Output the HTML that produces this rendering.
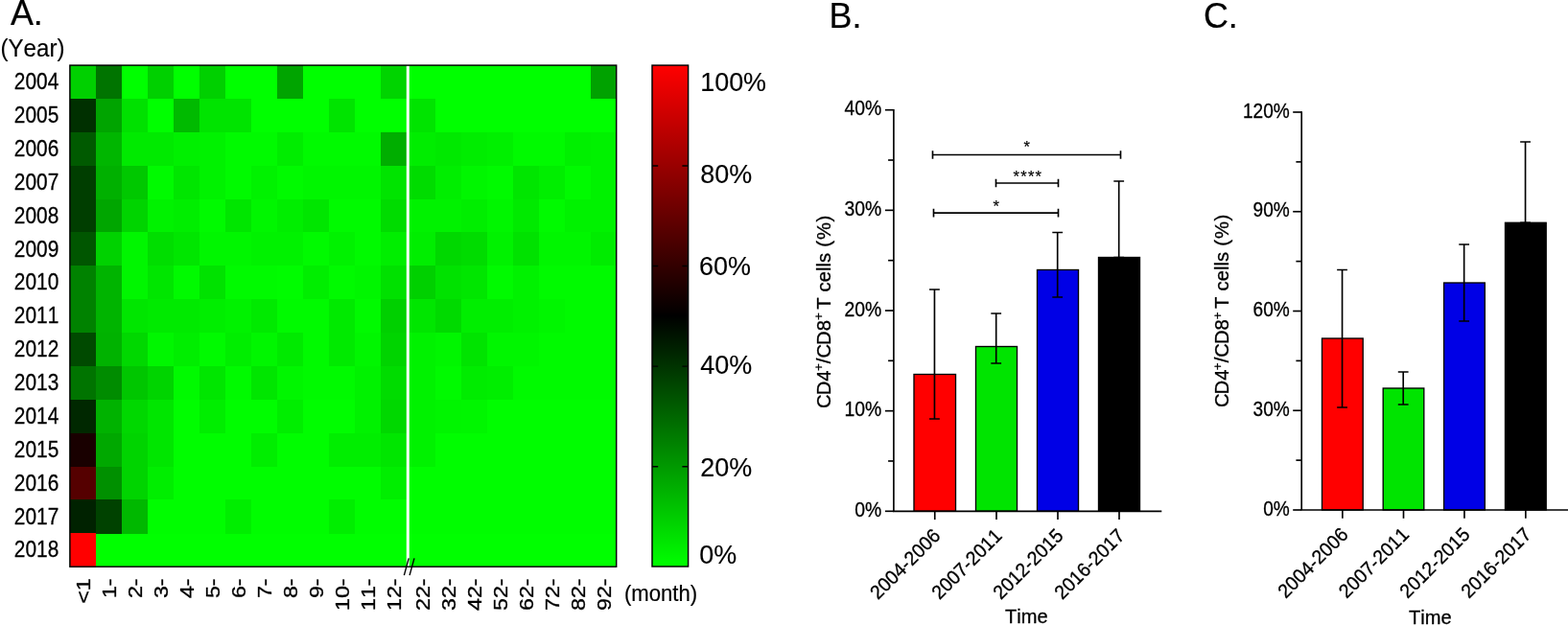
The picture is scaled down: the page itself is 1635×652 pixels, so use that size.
<!DOCTYPE html>
<html lang="en"><head><meta charset="utf-8"><title>Figure</title>
<style>
html,body{margin:0;padding:0;background:#fff;}
body{width:1635px;height:652px;overflow:hidden;font-family:"Liberation Sans", Arial, sans-serif;}
svg{display:block;}
</style></head><body>
<svg width="1635" height="652" viewBox="0 0 1635 652" font-family='"Liberation Sans", Arial, sans-serif' fill="#000" style="font-kerning:none">
<rect width="1635" height="652" fill="#fff"/>
<g id="panelA">
<text transform="translate(10.90,25.80) scale(0.965,1)" font-size="37.2" stroke="#000" stroke-width="0.2">A.</text>
<text transform="translate(34.00,58.80) scale(0.95,1)" font-size="25.4" text-anchor="middle" stroke="#000" stroke-width="0.15">(Year)</text>
<rect x="72.9" y="68.1" width="569.80" height="523.10" fill="#00ff00"/>
<g shape-rendering="crispEdges">
<rect x="72.90" y="68.10" width="27.39" height="35.27" fill="#00d000"/>
<rect x="99.89" y="68.10" width="27.39" height="35.27" fill="#007400"/>
<rect x="126.88" y="68.10" width="27.39" height="35.27" fill="#00ff00"/>
<rect x="153.87" y="68.10" width="27.39" height="35.27" fill="#00d000"/>
<rect x="180.86" y="68.10" width="27.39" height="35.27" fill="#00ff00"/>
<rect x="207.85" y="68.10" width="27.39" height="35.27" fill="#00d000"/>
<rect x="234.84" y="68.10" width="27.39" height="35.27" fill="#00ff00"/>
<rect x="261.83" y="68.10" width="27.39" height="35.27" fill="#00ff00"/>
<rect x="288.82" y="68.10" width="27.39" height="35.27" fill="#00a400"/>
<rect x="315.81" y="68.10" width="27.39" height="35.27" fill="#00ff00"/>
<rect x="342.80" y="68.10" width="27.39" height="35.27" fill="#00ff00"/>
<rect x="369.80" y="68.10" width="27.39" height="35.27" fill="#00ff00"/>
<rect x="396.79" y="68.10" width="27.39" height="35.27" fill="#00d400"/>
<rect x="426.78" y="68.10" width="27.39" height="35.27" fill="#00ff00"/>
<rect x="453.77" y="68.10" width="27.39" height="35.27" fill="#00ff00"/>
<rect x="480.76" y="68.10" width="27.39" height="35.27" fill="#00ff00"/>
<rect x="507.75" y="68.10" width="27.39" height="35.27" fill="#00ff00"/>
<rect x="534.74" y="68.10" width="27.39" height="35.27" fill="#00ff00"/>
<rect x="561.73" y="68.10" width="27.39" height="35.27" fill="#00ff00"/>
<rect x="588.72" y="68.10" width="27.39" height="35.27" fill="#00ff00"/>
<rect x="615.71" y="68.10" width="27.39" height="35.27" fill="#00a200"/>
<rect x="72.90" y="102.97" width="27.39" height="35.27" fill="#003000"/>
<rect x="99.89" y="102.97" width="27.39" height="35.27" fill="#00a400"/>
<rect x="126.88" y="102.97" width="27.39" height="35.27" fill="#00e100"/>
<rect x="153.87" y="102.97" width="27.39" height="35.27" fill="#00ff00"/>
<rect x="180.86" y="102.97" width="27.39" height="35.27" fill="#00ba00"/>
<rect x="207.85" y="102.97" width="27.39" height="35.27" fill="#00e400"/>
<rect x="234.84" y="102.97" width="27.39" height="35.27" fill="#00e400"/>
<rect x="261.83" y="102.97" width="27.39" height="35.27" fill="#00ff00"/>
<rect x="288.82" y="102.97" width="27.39" height="35.27" fill="#00ff00"/>
<rect x="315.81" y="102.97" width="27.39" height="35.27" fill="#00ff00"/>
<rect x="342.80" y="102.97" width="27.39" height="35.27" fill="#00e400"/>
<rect x="369.80" y="102.97" width="27.39" height="35.27" fill="#00ff00"/>
<rect x="396.79" y="102.97" width="27.39" height="35.27" fill="#00ff00"/>
<rect x="426.78" y="102.97" width="27.39" height="35.27" fill="#00e400"/>
<rect x="453.77" y="102.97" width="27.39" height="35.27" fill="#00ff00"/>
<rect x="480.76" y="102.97" width="27.39" height="35.27" fill="#00ff00"/>
<rect x="507.75" y="102.97" width="27.39" height="35.27" fill="#00ff00"/>
<rect x="534.74" y="102.97" width="27.39" height="35.27" fill="#00ff00"/>
<rect x="561.73" y="102.97" width="27.39" height="35.27" fill="#00ff00"/>
<rect x="588.72" y="102.97" width="27.39" height="35.27" fill="#00ff00"/>
<rect x="615.71" y="102.97" width="27.39" height="35.27" fill="#00ff00"/>
<rect x="72.90" y="137.85" width="27.39" height="35.27" fill="#005a00"/>
<rect x="99.89" y="137.85" width="27.39" height="35.27" fill="#00b600"/>
<rect x="126.88" y="137.85" width="27.39" height="35.27" fill="#00ea00"/>
<rect x="153.87" y="137.85" width="27.39" height="35.27" fill="#00ea00"/>
<rect x="180.86" y="137.85" width="27.39" height="35.27" fill="#00f000"/>
<rect x="207.85" y="137.85" width="27.39" height="35.27" fill="#00f200"/>
<rect x="234.84" y="137.85" width="27.39" height="35.27" fill="#00fa00"/>
<rect x="261.83" y="137.85" width="27.39" height="35.27" fill="#00fa00"/>
<rect x="288.82" y="137.85" width="27.39" height="35.27" fill="#00ed00"/>
<rect x="315.81" y="137.85" width="27.39" height="35.27" fill="#00fa00"/>
<rect x="342.80" y="137.85" width="27.39" height="35.27" fill="#00fa00"/>
<rect x="369.80" y="137.85" width="27.39" height="35.27" fill="#00fa00"/>
<rect x="396.79" y="137.85" width="27.39" height="35.27" fill="#00ae00"/>
<rect x="426.78" y="137.85" width="27.39" height="35.27" fill="#00ed00"/>
<rect x="453.77" y="137.85" width="27.39" height="35.27" fill="#00e900"/>
<rect x="480.76" y="137.85" width="27.39" height="35.27" fill="#00ed00"/>
<rect x="507.75" y="137.85" width="27.39" height="35.27" fill="#00f000"/>
<rect x="534.74" y="137.85" width="27.39" height="35.27" fill="#00fa00"/>
<rect x="561.73" y="137.85" width="27.39" height="35.27" fill="#00fa00"/>
<rect x="588.72" y="137.85" width="27.39" height="35.27" fill="#00f000"/>
<rect x="615.71" y="137.85" width="27.39" height="35.27" fill="#00f200"/>
<rect x="72.90" y="172.72" width="27.39" height="35.27" fill="#003e00"/>
<rect x="99.89" y="172.72" width="27.39" height="35.27" fill="#00b000"/>
<rect x="126.88" y="172.72" width="27.39" height="35.27" fill="#00c800"/>
<rect x="153.87" y="172.72" width="27.39" height="35.27" fill="#00fa00"/>
<rect x="180.86" y="172.72" width="27.39" height="35.27" fill="#00e600"/>
<rect x="207.85" y="172.72" width="27.39" height="35.27" fill="#00f200"/>
<rect x="234.84" y="172.72" width="27.39" height="35.27" fill="#00fa00"/>
<rect x="261.83" y="172.72" width="27.39" height="35.27" fill="#00f200"/>
<rect x="288.82" y="172.72" width="27.39" height="35.27" fill="#00fa00"/>
<rect x="315.81" y="172.72" width="27.39" height="35.27" fill="#00f600"/>
<rect x="342.80" y="172.72" width="27.39" height="35.27" fill="#00f600"/>
<rect x="369.80" y="172.72" width="27.39" height="35.27" fill="#00f600"/>
<rect x="396.79" y="172.72" width="27.39" height="35.27" fill="#00e400"/>
<rect x="426.78" y="172.72" width="27.39" height="35.27" fill="#00dc00"/>
<rect x="453.77" y="172.72" width="27.39" height="35.27" fill="#00ee00"/>
<rect x="480.76" y="172.72" width="27.39" height="35.27" fill="#00f600"/>
<rect x="507.75" y="172.72" width="27.39" height="35.27" fill="#00fa00"/>
<rect x="534.74" y="172.72" width="27.39" height="35.27" fill="#00e600"/>
<rect x="561.73" y="172.72" width="27.39" height="35.27" fill="#00ee00"/>
<rect x="588.72" y="172.72" width="27.39" height="35.27" fill="#00fa00"/>
<rect x="615.71" y="172.72" width="27.39" height="35.27" fill="#00f200"/>
<rect x="72.90" y="207.59" width="27.39" height="35.27" fill="#003e00"/>
<rect x="99.89" y="207.59" width="27.39" height="35.27" fill="#00a600"/>
<rect x="126.88" y="207.59" width="27.39" height="35.27" fill="#00d400"/>
<rect x="153.87" y="207.59" width="27.39" height="35.27" fill="#00f200"/>
<rect x="180.86" y="207.59" width="27.39" height="35.27" fill="#00ee00"/>
<rect x="207.85" y="207.59" width="27.39" height="35.27" fill="#00fa00"/>
<rect x="234.84" y="207.59" width="27.39" height="35.27" fill="#00e600"/>
<rect x="261.83" y="207.59" width="27.39" height="35.27" fill="#00f600"/>
<rect x="288.82" y="207.59" width="27.39" height="35.27" fill="#00ee00"/>
<rect x="315.81" y="207.59" width="27.39" height="35.27" fill="#00e600"/>
<rect x="342.80" y="207.59" width="27.39" height="35.27" fill="#00fa00"/>
<rect x="369.80" y="207.59" width="27.39" height="35.27" fill="#00fa00"/>
<rect x="396.79" y="207.59" width="27.39" height="35.27" fill="#00dc00"/>
<rect x="426.78" y="207.59" width="27.39" height="35.27" fill="#00f200"/>
<rect x="453.77" y="207.59" width="27.39" height="35.27" fill="#00f200"/>
<rect x="480.76" y="207.59" width="27.39" height="35.27" fill="#00ee00"/>
<rect x="507.75" y="207.59" width="27.39" height="35.27" fill="#00f600"/>
<rect x="534.74" y="207.59" width="27.39" height="35.27" fill="#00ea00"/>
<rect x="561.73" y="207.59" width="27.39" height="35.27" fill="#00fa00"/>
<rect x="588.72" y="207.59" width="27.39" height="35.27" fill="#00f200"/>
<rect x="615.71" y="207.59" width="27.39" height="35.27" fill="#00f200"/>
<rect x="72.90" y="242.47" width="27.39" height="35.27" fill="#005600"/>
<rect x="99.89" y="242.47" width="27.39" height="35.27" fill="#00d200"/>
<rect x="126.88" y="242.47" width="27.39" height="35.27" fill="#00f600"/>
<rect x="153.87" y="242.47" width="27.39" height="35.27" fill="#00de00"/>
<rect x="180.86" y="242.47" width="27.39" height="35.27" fill="#00e600"/>
<rect x="207.85" y="242.47" width="27.39" height="35.27" fill="#00f600"/>
<rect x="234.84" y="242.47" width="27.39" height="35.27" fill="#00f600"/>
<rect x="261.83" y="242.47" width="27.39" height="35.27" fill="#00f200"/>
<rect x="288.82" y="242.47" width="27.39" height="35.27" fill="#00f200"/>
<rect x="315.81" y="242.47" width="27.39" height="35.27" fill="#00fa00"/>
<rect x="342.80" y="242.47" width="27.39" height="35.27" fill="#00f200"/>
<rect x="369.80" y="242.47" width="27.39" height="35.27" fill="#00fa00"/>
<rect x="396.79" y="242.47" width="27.39" height="35.27" fill="#00ee00"/>
<rect x="426.78" y="242.47" width="27.39" height="35.27" fill="#00ee00"/>
<rect x="453.77" y="242.47" width="27.39" height="35.27" fill="#00d800"/>
<rect x="480.76" y="242.47" width="27.39" height="35.27" fill="#00dc00"/>
<rect x="507.75" y="242.47" width="27.39" height="35.27" fill="#00f200"/>
<rect x="534.74" y="242.47" width="27.39" height="35.27" fill="#00e200"/>
<rect x="561.73" y="242.47" width="27.39" height="35.27" fill="#00f600"/>
<rect x="588.72" y="242.47" width="27.39" height="35.27" fill="#00f600"/>
<rect x="615.71" y="242.47" width="27.39" height="35.27" fill="#00ec00"/>
<rect x="72.90" y="277.34" width="27.39" height="35.27" fill="#008200"/>
<rect x="99.89" y="277.34" width="27.39" height="35.27" fill="#00b400"/>
<rect x="126.88" y="277.34" width="27.39" height="35.27" fill="#00f600"/>
<rect x="153.87" y="277.34" width="27.39" height="35.27" fill="#00e600"/>
<rect x="180.86" y="277.34" width="27.39" height="35.27" fill="#00fa00"/>
<rect x="207.85" y="277.34" width="27.39" height="35.27" fill="#00e200"/>
<rect x="234.84" y="277.34" width="27.39" height="35.27" fill="#00fa00"/>
<rect x="261.83" y="277.34" width="27.39" height="35.27" fill="#00fa00"/>
<rect x="288.82" y="277.34" width="27.39" height="35.27" fill="#00fc00"/>
<rect x="315.81" y="277.34" width="27.39" height="35.27" fill="#00ee00"/>
<rect x="342.80" y="277.34" width="27.39" height="35.27" fill="#00fa00"/>
<rect x="369.80" y="277.34" width="27.39" height="35.27" fill="#00f600"/>
<rect x="396.79" y="277.34" width="27.39" height="35.27" fill="#00e100"/>
<rect x="426.78" y="277.34" width="27.39" height="35.27" fill="#00d000"/>
<rect x="453.77" y="277.34" width="27.39" height="35.27" fill="#00e200"/>
<rect x="480.76" y="277.34" width="27.39" height="35.27" fill="#00e600"/>
<rect x="507.75" y="277.34" width="27.39" height="35.27" fill="#00fa00"/>
<rect x="534.74" y="277.34" width="27.39" height="35.27" fill="#00f200"/>
<rect x="561.73" y="277.34" width="27.39" height="35.27" fill="#00fa00"/>
<rect x="588.72" y="277.34" width="27.39" height="35.27" fill="#00fa00"/>
<rect x="615.71" y="277.34" width="27.39" height="35.27" fill="#00fa00"/>
<rect x="72.90" y="312.21" width="27.39" height="35.27" fill="#008200"/>
<rect x="99.89" y="312.21" width="27.39" height="35.27" fill="#00b400"/>
<rect x="126.88" y="312.21" width="27.39" height="35.27" fill="#00e600"/>
<rect x="153.87" y="312.21" width="27.39" height="35.27" fill="#00ea00"/>
<rect x="180.86" y="312.21" width="27.39" height="35.27" fill="#00ea00"/>
<rect x="207.85" y="312.21" width="27.39" height="35.27" fill="#00ee00"/>
<rect x="234.84" y="312.21" width="27.39" height="35.27" fill="#00f200"/>
<rect x="261.83" y="312.21" width="27.39" height="35.27" fill="#00ea00"/>
<rect x="288.82" y="312.21" width="27.39" height="35.27" fill="#00fa00"/>
<rect x="315.81" y="312.21" width="27.39" height="35.27" fill="#00fa00"/>
<rect x="342.80" y="312.21" width="27.39" height="35.27" fill="#00ea00"/>
<rect x="369.80" y="312.21" width="27.39" height="35.27" fill="#00fa00"/>
<rect x="396.79" y="312.21" width="27.39" height="35.27" fill="#00d000"/>
<rect x="426.78" y="312.21" width="27.39" height="35.27" fill="#00e600"/>
<rect x="453.77" y="312.21" width="27.39" height="35.27" fill="#00da00"/>
<rect x="480.76" y="312.21" width="27.39" height="35.27" fill="#00ee00"/>
<rect x="507.75" y="312.21" width="27.39" height="35.27" fill="#00ee00"/>
<rect x="534.74" y="312.21" width="27.39" height="35.27" fill="#00f200"/>
<rect x="561.73" y="312.21" width="27.39" height="35.27" fill="#00f600"/>
<rect x="588.72" y="312.21" width="27.39" height="35.27" fill="#00fa00"/>
<rect x="615.71" y="312.21" width="27.39" height="35.27" fill="#00fa00"/>
<rect x="72.90" y="347.09" width="27.39" height="35.27" fill="#004a00"/>
<rect x="99.89" y="347.09" width="27.39" height="35.27" fill="#00b200"/>
<rect x="126.88" y="347.09" width="27.39" height="35.27" fill="#00d800"/>
<rect x="153.87" y="347.09" width="27.39" height="35.27" fill="#00f600"/>
<rect x="180.86" y="347.09" width="27.39" height="35.27" fill="#00ee00"/>
<rect x="207.85" y="347.09" width="27.39" height="35.27" fill="#00fa00"/>
<rect x="234.84" y="347.09" width="27.39" height="35.27" fill="#00ee00"/>
<rect x="261.83" y="347.09" width="27.39" height="35.27" fill="#00f600"/>
<rect x="288.82" y="347.09" width="27.39" height="35.27" fill="#00ea00"/>
<rect x="315.81" y="347.09" width="27.39" height="35.27" fill="#00fa00"/>
<rect x="342.80" y="347.09" width="27.39" height="35.27" fill="#00ea00"/>
<rect x="369.80" y="347.09" width="27.39" height="35.27" fill="#00f600"/>
<rect x="396.79" y="347.09" width="27.39" height="35.27" fill="#00d400"/>
<rect x="426.78" y="347.09" width="27.39" height="35.27" fill="#00f200"/>
<rect x="453.77" y="347.09" width="27.39" height="35.27" fill="#00f600"/>
<rect x="480.76" y="347.09" width="27.39" height="35.27" fill="#00e400"/>
<rect x="507.75" y="347.09" width="27.39" height="35.27" fill="#00f600"/>
<rect x="534.74" y="347.09" width="27.39" height="35.27" fill="#00f600"/>
<rect x="561.73" y="347.09" width="27.39" height="35.27" fill="#00fa00"/>
<rect x="588.72" y="347.09" width="27.39" height="35.27" fill="#00fa00"/>
<rect x="615.71" y="347.09" width="27.39" height="35.27" fill="#00fa00"/>
<rect x="72.90" y="381.96" width="27.39" height="35.27" fill="#007400"/>
<rect x="99.89" y="381.96" width="27.39" height="35.27" fill="#008c00"/>
<rect x="126.88" y="381.96" width="27.39" height="35.27" fill="#00c600"/>
<rect x="153.87" y="381.96" width="27.39" height="35.27" fill="#00d400"/>
<rect x="180.86" y="381.96" width="27.39" height="35.27" fill="#00fa00"/>
<rect x="207.85" y="381.96" width="27.39" height="35.27" fill="#00e600"/>
<rect x="234.84" y="381.96" width="27.39" height="35.27" fill="#00fa00"/>
<rect x="261.83" y="381.96" width="27.39" height="35.27" fill="#00e600"/>
<rect x="288.82" y="381.96" width="27.39" height="35.27" fill="#00f600"/>
<rect x="315.81" y="381.96" width="27.39" height="35.27" fill="#00fa00"/>
<rect x="342.80" y="381.96" width="27.39" height="35.27" fill="#00fa00"/>
<rect x="369.80" y="381.96" width="27.39" height="35.27" fill="#00f200"/>
<rect x="396.79" y="381.96" width="27.39" height="35.27" fill="#00dc00"/>
<rect x="426.78" y="381.96" width="27.39" height="35.27" fill="#00f200"/>
<rect x="453.77" y="381.96" width="27.39" height="35.27" fill="#00fa00"/>
<rect x="480.76" y="381.96" width="27.39" height="35.27" fill="#00ec00"/>
<rect x="507.75" y="381.96" width="27.39" height="35.27" fill="#00ee00"/>
<rect x="534.74" y="381.96" width="27.39" height="35.27" fill="#00fa00"/>
<rect x="561.73" y="381.96" width="27.39" height="35.27" fill="#00fa00"/>
<rect x="588.72" y="381.96" width="27.39" height="35.27" fill="#00fa00"/>
<rect x="615.71" y="381.96" width="27.39" height="35.27" fill="#00fa00"/>
<rect x="72.90" y="416.83" width="27.39" height="35.27" fill="#002800"/>
<rect x="99.89" y="416.83" width="27.39" height="35.27" fill="#00b200"/>
<rect x="126.88" y="416.83" width="27.39" height="35.27" fill="#00d800"/>
<rect x="153.87" y="416.83" width="27.39" height="35.27" fill="#00e600"/>
<rect x="180.86" y="416.83" width="27.39" height="35.27" fill="#00fd00"/>
<rect x="207.85" y="416.83" width="27.39" height="35.27" fill="#00ee00"/>
<rect x="234.84" y="416.83" width="27.39" height="35.27" fill="#00fd00"/>
<rect x="261.83" y="416.83" width="27.39" height="35.27" fill="#00fd00"/>
<rect x="288.82" y="416.83" width="27.39" height="35.27" fill="#00ee00"/>
<rect x="315.81" y="416.83" width="27.39" height="35.27" fill="#00fd00"/>
<rect x="342.80" y="416.83" width="27.39" height="35.27" fill="#00fd00"/>
<rect x="369.80" y="416.83" width="27.39" height="35.27" fill="#00f200"/>
<rect x="396.79" y="416.83" width="27.39" height="35.27" fill="#00d800"/>
<rect x="426.78" y="416.83" width="27.39" height="35.27" fill="#00f200"/>
<rect x="453.77" y="416.83" width="27.39" height="35.27" fill="#00f500"/>
<rect x="480.76" y="416.83" width="27.39" height="35.27" fill="#00f600"/>
<rect x="507.75" y="416.83" width="27.39" height="35.27" fill="#00fd00"/>
<rect x="534.74" y="416.83" width="27.39" height="35.27" fill="#00fd00"/>
<rect x="561.73" y="416.83" width="27.39" height="35.27" fill="#00fd00"/>
<rect x="588.72" y="416.83" width="27.39" height="35.27" fill="#00fd00"/>
<rect x="615.71" y="416.83" width="27.39" height="35.27" fill="#00fd00"/>
<rect x="72.90" y="451.71" width="27.39" height="35.27" fill="#190000"/>
<rect x="99.89" y="451.71" width="27.39" height="35.27" fill="#00a800"/>
<rect x="126.88" y="451.71" width="27.39" height="35.27" fill="#00d400"/>
<rect x="153.87" y="451.71" width="27.39" height="35.27" fill="#00e600"/>
<rect x="180.86" y="451.71" width="27.39" height="35.27" fill="#00fd00"/>
<rect x="207.85" y="451.71" width="27.39" height="35.27" fill="#00fd00"/>
<rect x="234.84" y="451.71" width="27.39" height="35.27" fill="#00fd00"/>
<rect x="261.83" y="451.71" width="27.39" height="35.27" fill="#00ee00"/>
<rect x="288.82" y="451.71" width="27.39" height="35.27" fill="#00fd00"/>
<rect x="315.81" y="451.71" width="27.39" height="35.27" fill="#00fd00"/>
<rect x="342.80" y="451.71" width="27.39" height="35.27" fill="#00ee00"/>
<rect x="369.80" y="451.71" width="27.39" height="35.27" fill="#00ee00"/>
<rect x="396.79" y="451.71" width="27.39" height="35.27" fill="#00e600"/>
<rect x="426.78" y="451.71" width="27.39" height="35.27" fill="#00f200"/>
<rect x="453.77" y="451.71" width="27.39" height="35.27" fill="#00fd00"/>
<rect x="480.76" y="451.71" width="27.39" height="35.27" fill="#00fd00"/>
<rect x="507.75" y="451.71" width="27.39" height="35.27" fill="#00fd00"/>
<rect x="534.74" y="451.71" width="27.39" height="35.27" fill="#00fd00"/>
<rect x="561.73" y="451.71" width="27.39" height="35.27" fill="#00fd00"/>
<rect x="588.72" y="451.71" width="27.39" height="35.27" fill="#00fd00"/>
<rect x="615.71" y="451.71" width="27.39" height="35.27" fill="#00fd00"/>
<rect x="72.90" y="486.58" width="27.39" height="35.27" fill="#550000"/>
<rect x="99.89" y="486.58" width="27.39" height="35.27" fill="#009000"/>
<rect x="126.88" y="486.58" width="27.39" height="35.27" fill="#00d400"/>
<rect x="153.87" y="486.58" width="27.39" height="35.27" fill="#00ee00"/>
<rect x="180.86" y="486.58" width="27.39" height="35.27" fill="#00fd00"/>
<rect x="207.85" y="486.58" width="27.39" height="35.27" fill="#00fd00"/>
<rect x="234.84" y="486.58" width="27.39" height="35.27" fill="#00fd00"/>
<rect x="261.83" y="486.58" width="27.39" height="35.27" fill="#00fd00"/>
<rect x="288.82" y="486.58" width="27.39" height="35.27" fill="#00fd00"/>
<rect x="315.81" y="486.58" width="27.39" height="35.27" fill="#00fd00"/>
<rect x="342.80" y="486.58" width="27.39" height="35.27" fill="#00fd00"/>
<rect x="369.80" y="486.58" width="27.39" height="35.27" fill="#00fd00"/>
<rect x="396.79" y="486.58" width="27.39" height="35.27" fill="#00ee00"/>
<rect x="426.78" y="486.58" width="27.39" height="35.27" fill="#00fd00"/>
<rect x="453.77" y="486.58" width="27.39" height="35.27" fill="#00fd00"/>
<rect x="480.76" y="486.58" width="27.39" height="35.27" fill="#00fd00"/>
<rect x="507.75" y="486.58" width="27.39" height="35.27" fill="#00fd00"/>
<rect x="534.74" y="486.58" width="27.39" height="35.27" fill="#00fd00"/>
<rect x="561.73" y="486.58" width="27.39" height="35.27" fill="#00fd00"/>
<rect x="588.72" y="486.58" width="27.39" height="35.27" fill="#00fd00"/>
<rect x="615.71" y="486.58" width="27.39" height="35.27" fill="#00fd00"/>
<rect x="72.90" y="521.45" width="27.39" height="35.27" fill="#002200"/>
<rect x="99.89" y="521.45" width="27.39" height="35.27" fill="#004200"/>
<rect x="126.88" y="521.45" width="27.39" height="35.27" fill="#00b800"/>
<rect x="153.87" y="521.45" width="27.39" height="35.27" fill="#00fd00"/>
<rect x="180.86" y="521.45" width="27.39" height="35.27" fill="#00fd00"/>
<rect x="207.85" y="521.45" width="27.39" height="35.27" fill="#00fd00"/>
<rect x="234.84" y="521.45" width="27.39" height="35.27" fill="#00ee00"/>
<rect x="261.83" y="521.45" width="27.39" height="35.27" fill="#00fd00"/>
<rect x="288.82" y="521.45" width="27.39" height="35.27" fill="#00fd00"/>
<rect x="315.81" y="521.45" width="27.39" height="35.27" fill="#00fd00"/>
<rect x="342.80" y="521.45" width="27.39" height="35.27" fill="#00ee00"/>
<rect x="369.80" y="521.45" width="27.39" height="35.27" fill="#00fd00"/>
<rect x="396.79" y="521.45" width="27.39" height="35.27" fill="#00fd00"/>
<rect x="426.78" y="521.45" width="27.39" height="35.27" fill="#00fd00"/>
<rect x="453.77" y="521.45" width="27.39" height="35.27" fill="#00fd00"/>
<rect x="480.76" y="521.45" width="27.39" height="35.27" fill="#00fd00"/>
<rect x="507.75" y="521.45" width="27.39" height="35.27" fill="#00fd00"/>
<rect x="534.74" y="521.45" width="27.39" height="35.27" fill="#00fd00"/>
<rect x="561.73" y="521.45" width="27.39" height="35.27" fill="#00fd00"/>
<rect x="588.72" y="521.45" width="27.39" height="35.27" fill="#00fd00"/>
<rect x="615.71" y="521.45" width="27.39" height="35.27" fill="#00fd00"/>
<rect x="72.90" y="556.33" width="27.39" height="35.27" fill="#ff0000"/>
</g>
<rect x="423.78" y="68.1" width="3.0" height="523.10" fill="#fff"/>
<rect x="72.9" y="68.1" width="569.80" height="523.10" fill="none" stroke="#000" stroke-width="1.45"/>
<path d="M421.4 600.1 L426.2 582.4 M427.1 600.1 L432.0 582.4" stroke="#000" stroke-width="1.4" fill="none"/>
<text transform="translate(61.30,93.24) scale(0.885,1)" font-size="23.6" text-anchor="end" stroke="#000" stroke-width="0.3">2004</text>
<text transform="translate(61.30,128.11) scale(0.885,1)" font-size="23.6" text-anchor="end" stroke="#000" stroke-width="0.3">2005</text>
<text transform="translate(61.30,162.98) scale(0.885,1)" font-size="23.6" text-anchor="end" stroke="#000" stroke-width="0.3">2006</text>
<text transform="translate(61.30,197.86) scale(0.885,1)" font-size="23.6" text-anchor="end" stroke="#000" stroke-width="0.3">2007</text>
<text transform="translate(61.30,232.73) scale(0.885,1)" font-size="23.6" text-anchor="end" stroke="#000" stroke-width="0.3">2008</text>
<text transform="translate(61.30,267.60) scale(0.885,1)" font-size="23.6" text-anchor="end" stroke="#000" stroke-width="0.3">2009</text>
<text transform="translate(61.30,302.48) scale(0.885,1)" font-size="23.6" text-anchor="end" stroke="#000" stroke-width="0.3">2010</text>
<text transform="translate(61.30,337.35) scale(0.885,1)" font-size="23.6" text-anchor="end" stroke="#000" stroke-width="0.3">2011</text>
<text transform="translate(61.30,372.22) scale(0.885,1)" font-size="23.6" text-anchor="end" stroke="#000" stroke-width="0.3">2012</text>
<text transform="translate(61.30,407.10) scale(0.885,1)" font-size="23.6" text-anchor="end" stroke="#000" stroke-width="0.3">2013</text>
<text transform="translate(61.30,441.97) scale(0.885,1)" font-size="23.6" text-anchor="end" stroke="#000" stroke-width="0.3">2014</text>
<text transform="translate(61.30,476.84) scale(0.885,1)" font-size="23.6" text-anchor="end" stroke="#000" stroke-width="0.3">2015</text>
<text transform="translate(61.30,511.72) scale(0.885,1)" font-size="23.6" text-anchor="end" stroke="#000" stroke-width="0.3">2016</text>
<text transform="translate(61.30,546.59) scale(0.885,1)" font-size="23.6" text-anchor="end" stroke="#000" stroke-width="0.3">2017</text>
<text transform="translate(61.30,581.46) scale(0.885,1)" font-size="23.6" text-anchor="end" stroke="#000" stroke-width="0.3">2018</text>
<text transform="translate(93.90,603.40) rotate(-90) scale(1.1,1)" font-size="21.1" text-anchor="end" stroke="#000" stroke-width="0.3">&lt;1</text>
<text transform="translate(120.89,603.40) rotate(-90) scale(1.1,1)" font-size="21.1" text-anchor="end" stroke="#000" stroke-width="0.3">1-</text>
<text transform="translate(147.88,603.40) rotate(-90) scale(1.1,1)" font-size="21.1" text-anchor="end" stroke="#000" stroke-width="0.3">2-</text>
<text transform="translate(174.87,603.40) rotate(-90) scale(1.1,1)" font-size="21.1" text-anchor="end" stroke="#000" stroke-width="0.3">3-</text>
<text transform="translate(201.86,603.40) rotate(-90) scale(1.1,1)" font-size="21.1" text-anchor="end" stroke="#000" stroke-width="0.3">4-</text>
<text transform="translate(228.85,603.40) rotate(-90) scale(1.1,1)" font-size="21.1" text-anchor="end" stroke="#000" stroke-width="0.3">5-</text>
<text transform="translate(255.84,603.40) rotate(-90) scale(1.1,1)" font-size="21.1" text-anchor="end" stroke="#000" stroke-width="0.3">6-</text>
<text transform="translate(282.83,603.40) rotate(-90) scale(1.1,1)" font-size="21.1" text-anchor="end" stroke="#000" stroke-width="0.3">7-</text>
<text transform="translate(309.82,603.40) rotate(-90) scale(1.1,1)" font-size="21.1" text-anchor="end" stroke="#000" stroke-width="0.3">8-</text>
<text transform="translate(336.81,603.40) rotate(-90) scale(1.1,1)" font-size="21.1" text-anchor="end" stroke="#000" stroke-width="0.3">9-</text>
<text transform="translate(363.80,603.40) rotate(-90) scale(1.1,1)" font-size="21.1" text-anchor="end" stroke="#000" stroke-width="0.3">10-</text>
<text transform="translate(390.79,603.40) rotate(-90) scale(1.1,1)" font-size="21.1" text-anchor="end" stroke="#000" stroke-width="0.3">11-</text>
<text transform="translate(417.78,603.40) rotate(-90) scale(1.1,1)" font-size="21.1" text-anchor="end" stroke="#000" stroke-width="0.3">12-</text>
<text transform="translate(447.77,603.40) rotate(-90) scale(1.1,1)" font-size="21.1" text-anchor="end" stroke="#000" stroke-width="0.3">22-</text>
<text transform="translate(474.76,603.40) rotate(-90) scale(1.1,1)" font-size="21.1" text-anchor="end" stroke="#000" stroke-width="0.3">32-</text>
<text transform="translate(501.75,603.40) rotate(-90) scale(1.1,1)" font-size="21.1" text-anchor="end" stroke="#000" stroke-width="0.3">42-</text>
<text transform="translate(528.74,603.40) rotate(-90) scale(1.1,1)" font-size="21.1" text-anchor="end" stroke="#000" stroke-width="0.3">52-</text>
<text transform="translate(555.73,603.40) rotate(-90) scale(1.1,1)" font-size="21.1" text-anchor="end" stroke="#000" stroke-width="0.3">62-</text>
<text transform="translate(582.72,603.40) rotate(-90) scale(1.1,1)" font-size="21.1" text-anchor="end" stroke="#000" stroke-width="0.3">72-</text>
<text transform="translate(609.71,603.40) rotate(-90) scale(1.1,1)" font-size="21.1" text-anchor="end" stroke="#000" stroke-width="0.3">82-</text>
<text transform="translate(636.70,603.40) rotate(-90) scale(1.1,1)" font-size="21.1" text-anchor="end" stroke="#000" stroke-width="0.3">92-</text>
<text transform="translate(689.00,627.00) scale(0.922,1)" font-size="24" text-anchor="middle" stroke="#000" stroke-width="0.2">(month)</text>
<defs><linearGradient id="cb" x1="0" y1="0" x2="0" y2="1"><stop offset="0" stop-color="#ff0000"/><stop offset="0.5" stop-color="#000000"/><stop offset="1" stop-color="#00ff00"/></linearGradient></defs>
<rect x="680.0" y="68.1" width="37.60" height="522.90" fill="url(#cb)" stroke="#000" stroke-width="1.45"/>
<text transform="translate(730.20,95.00) scale(0.952,1)" font-size="28.3" stroke="#000" stroke-width="0.15">100%</text>
<path d="M680.0 172.98 h6.2 M717.6 172.98 h-6.2" stroke="#000" stroke-width="1.4"/>
<text transform="translate(730.20,190.80) scale(0.952,1)" font-size="28.3" stroke="#000" stroke-width="0.15">80%</text>
<path d="M680.0 277.56 h6.2 M717.6 277.56 h-6.2" stroke="#000" stroke-width="1.4"/>
<text transform="translate(729.00,287.30) scale(0.952,1)" font-size="28.3" stroke="#000" stroke-width="0.15">60%</text>
<path d="M680.0 382.14 h6.2 M717.6 382.14 h-6.2" stroke="#000" stroke-width="1.4"/>
<text transform="translate(730.20,389.90) scale(0.952,1)" font-size="28.3" stroke="#000" stroke-width="0.15">40%</text>
<path d="M680.0 486.72 h6.2 M717.6 486.72 h-6.2" stroke="#000" stroke-width="1.4"/>
<text transform="translate(730.20,496.90) scale(0.952,1)" font-size="28.3" stroke="#000" stroke-width="0.15">20%</text>
<text transform="translate(729.20,588.30) scale(0.952,1)" font-size="28.3" stroke="#000" stroke-width="0.15">0%</text>
</g>
<g id="panelB">
<text transform="translate(864.50,29.00) scale(0.965,1)" font-size="37.2" stroke="#000" stroke-width="0.2">B.</text>
<path d="M931.9 113.875 V533.3" stroke="#000" stroke-width="1.65" fill="none"/>
<path d="M922.9 533.30 H931.9" stroke="#000" stroke-width="1.65"/>
<text transform="translate(919.30,538.90) scale(0.89,1)" font-size="21.8" text-anchor="end" stroke="#000" stroke-width="0.3">0%</text>
<path d="M926.1 480.97 H931.9" stroke="#000" stroke-width="1.65"/>
<path d="M922.9 428.65 H931.9" stroke="#000" stroke-width="1.65"/>
<text transform="translate(919.30,434.25) scale(0.89,1)" font-size="21.8" text-anchor="end" stroke="#000" stroke-width="0.3">10%</text>
<path d="M926.1 376.32 H931.9" stroke="#000" stroke-width="1.65"/>
<path d="M922.9 324.00 H931.9" stroke="#000" stroke-width="1.65"/>
<text transform="translate(919.30,329.60) scale(0.89,1)" font-size="21.8" text-anchor="end" stroke="#000" stroke-width="0.3">20%</text>
<path d="M926.1 271.68 H931.9" stroke="#000" stroke-width="1.65"/>
<path d="M922.9 219.35 H931.9" stroke="#000" stroke-width="1.65"/>
<text transform="translate(919.30,224.95) scale(0.89,1)" font-size="21.8" text-anchor="end" stroke="#000" stroke-width="0.3">30%</text>
<path d="M926.1 167.02 H931.9" stroke="#000" stroke-width="1.65"/>
<path d="M922.9 114.70 H931.9" stroke="#000" stroke-width="1.65"/>
<text transform="translate(919.30,120.30) scale(0.89,1)" font-size="21.8" text-anchor="end" stroke="#000" stroke-width="0.3">40%</text>
<rect x="953" y="390.5" width="43.5" height="142.79999999999995" fill="#ff0000" stroke="#000" stroke-width="1.35"/>
<path d="M974.45 302 V437 M969.0500000000001 302 h10.8 M969.0500000000001 437 h10.8" stroke="#000" stroke-width="1.65" fill="none"/>
<path d="M974.75 533.3 v8.8" stroke="#000" stroke-width="1.65"/>
<text transform="translate(981.75,560.10) rotate(-45) scale(0.965,1)" font-size="20.3" text-anchor="end" stroke="#000" stroke-width="0.3">2004-2006</text>
<rect x="1017.5" y="361.5" width="43.0" height="171.79999999999995" fill="#00e400" stroke="#000" stroke-width="1.35"/>
<path d="M1038.7 327 V379 M1033.3 327 h10.8 M1033.3 379 h10.8" stroke="#000" stroke-width="1.65" fill="none"/>
<path d="M1039.0 533.3 v8.8" stroke="#000" stroke-width="1.65"/>
<text transform="translate(1046.00,560.10) rotate(-45) scale(0.965,1)" font-size="20.3" text-anchor="end" stroke="#000" stroke-width="0.3">2007-2011</text>
<rect x="1081.5" y="281.5" width="43.0" height="251.79999999999995" fill="#0000e6" stroke="#000" stroke-width="1.35"/>
<path d="M1102.7 242.5 V310 M1097.3 242.5 h10.8 M1097.3 310 h10.8" stroke="#000" stroke-width="1.65" fill="none"/>
<path d="M1103.0 533.3 v8.8" stroke="#000" stroke-width="1.65"/>
<text transform="translate(1110.00,560.10) rotate(-45) scale(0.965,1)" font-size="20.3" text-anchor="end" stroke="#000" stroke-width="0.3">2012-2015</text>
<rect x="1145.5" y="268.5" width="43.0" height="264.79999999999995" fill="#000000" stroke="#000" stroke-width="1.35"/>
<path d="M1166.7 189 V268.5 M1161.3 189 h10.8 M1161.3 268.5 h10.8" stroke="#000" stroke-width="1.65" fill="none"/>
<path d="M1167.0 533.3 v8.8" stroke="#000" stroke-width="1.65"/>
<text transform="translate(1174.00,560.10) rotate(-45) scale(0.965,1)" font-size="20.3" text-anchor="end" stroke="#000" stroke-width="0.3">2016-2017</text>
<path d="M931.0749999999999 533.3 H1211.3" stroke="#000" stroke-width="1.65"/>
<text transform="translate(865.6,327.0) rotate(-90) scale(1.035,1)" font-size="19.6" text-anchor="middle" stroke="#000" stroke-width="0.3"><tspan dx="1.6">C</tspan><tspan dx="-0.9">D4</tspan><tspan font-size="13" dy="-7.5" dx="-0.7">+</tspan><tspan dy="7.5">/C</tspan><tspan dx="-1">D8</tspan><tspan font-size="13" dy="-7.5">+</tspan><tspan dy="7.5" dx="-2.2"> T</tspan><tspan dx="0.4"> cells</tspan><tspan dx="0.4"> (</tspan><tspan dx="1">%</tspan><tspan dx="0.5">)</tspan></text>
<text transform="translate(1070.30,650.10) scale(0.962,1)" font-size="20.9" text-anchor="middle" stroke="#000" stroke-width="0.3">Time</text>
<path d="M972.5 161.5 H1168.5 M972.5 157.2 v8.6 M1168.5 157.2 v8.6" stroke="#000" stroke-width="1.65" fill="none"/>
<text x="1071.40" y="158.70" font-size="16.5" text-anchor="middle" letter-spacing="1.3" stroke="#000" stroke-width="0.2">*</text>
<path d="M1038.5 191 H1103.5 M1038.5 186.7 v8.6 M1103.5 186.7 v8.6" stroke="#000" stroke-width="1.65" fill="none"/>
<text x="1071.90" y="189.50" font-size="16.5" text-anchor="middle" letter-spacing="1.3" stroke="#000" stroke-width="0.2">****</text>
<path d="M973.5 222.1 H1103.5 M973.5 217.79999999999998 v8.6 M1103.5 217.79999999999998 v8.6" stroke="#000" stroke-width="1.65" fill="none"/>
<text x="1039.40" y="220.60" font-size="16.5" text-anchor="middle" letter-spacing="1.3" stroke="#000" stroke-width="0.2">*</text>
</g>
<g id="panelC">
<text transform="translate(1254.90,29.00) scale(0.965,1)" font-size="37.2" stroke="#000" stroke-width="0.2">C.</text>
<path d="M1357.2 116.175 V532.0" stroke="#000" stroke-width="1.65" fill="none"/>
<path d="M1348.2 532.00 H1357.2" stroke="#000" stroke-width="1.65"/>
<text transform="translate(1344.80,537.60) scale(0.876,1)" font-size="21.8" text-anchor="end" stroke="#000" stroke-width="0.3">0%</text>
<path d="M1351.4 480.12 H1357.2" stroke="#000" stroke-width="1.65"/>
<path d="M1348.2 428.25 H1357.2" stroke="#000" stroke-width="1.65"/>
<text transform="translate(1344.80,433.85) scale(0.876,1)" font-size="21.8" text-anchor="end" stroke="#000" stroke-width="0.3">30%</text>
<path d="M1351.4 376.38 H1357.2" stroke="#000" stroke-width="1.65"/>
<path d="M1348.2 324.50 H1357.2" stroke="#000" stroke-width="1.65"/>
<text transform="translate(1344.80,330.10) scale(0.876,1)" font-size="21.8" text-anchor="end" stroke="#000" stroke-width="0.3">60%</text>
<path d="M1351.4 272.62 H1357.2" stroke="#000" stroke-width="1.65"/>
<path d="M1348.2 220.75 H1357.2" stroke="#000" stroke-width="1.65"/>
<text transform="translate(1344.80,226.35) scale(0.876,1)" font-size="21.8" text-anchor="end" stroke="#000" stroke-width="0.3">90%</text>
<path d="M1351.4 168.88 H1357.2" stroke="#000" stroke-width="1.65"/>
<path d="M1348.2 117.00 H1357.2" stroke="#000" stroke-width="1.65"/>
<text transform="translate(1344.80,122.60) scale(0.876,1)" font-size="21.8" text-anchor="end" stroke="#000" stroke-width="0.3">120%</text>
<rect x="1378.5" y="353" width="42.700000000000045" height="179.0" fill="#ff0000" stroke="#000" stroke-width="1.35"/>
<path d="M1399.55 281.5 V425 M1394.1499999999999 281.5 h10.8 M1394.1499999999999 425 h10.8" stroke="#000" stroke-width="1.65" fill="none"/>
<path d="M1399.85 532.0 v8.8" stroke="#000" stroke-width="1.65"/>
<text transform="translate(1406.85,558.80) rotate(-45) scale(0.965,1)" font-size="20.3" text-anchor="end" stroke="#000" stroke-width="0.3">2004-2006</text>
<rect x="1442.2" y="405" width="42.59999999999991" height="127.0" fill="#00e400" stroke="#000" stroke-width="1.35"/>
<path d="M1463.2 388 V422 M1457.8 388 h10.8 M1457.8 422 h10.8" stroke="#000" stroke-width="1.65" fill="none"/>
<path d="M1463.5 532.0 v8.8" stroke="#000" stroke-width="1.65"/>
<text transform="translate(1470.50,558.80) rotate(-45) scale(0.965,1)" font-size="20.3" text-anchor="end" stroke="#000" stroke-width="0.3">2007-2011</text>
<rect x="1505.6" y="295" width="42.700000000000045" height="237.0" fill="#0000e6" stroke="#000" stroke-width="1.35"/>
<path d="M1526.6499999999999 255 V335 M1521.2499999999998 255 h10.8 M1521.2499999999998 335 h10.8" stroke="#000" stroke-width="1.65" fill="none"/>
<path d="M1526.9499999999998 532.0 v8.8" stroke="#000" stroke-width="1.65"/>
<text transform="translate(1533.95,558.80) rotate(-45) scale(0.965,1)" font-size="20.3" text-anchor="end" stroke="#000" stroke-width="0.3">2012-2015</text>
<rect x="1569.5" y="232.3" width="42.700000000000045" height="299.7" fill="#000000" stroke="#000" stroke-width="1.35"/>
<path d="M1590.55 148 V232.3 M1585.1499999999999 148 h10.8 M1585.1499999999999 232.3 h10.8" stroke="#000" stroke-width="1.65" fill="none"/>
<path d="M1590.85 532.0 v8.8" stroke="#000" stroke-width="1.65"/>
<text transform="translate(1597.85,558.80) rotate(-45) scale(0.965,1)" font-size="20.3" text-anchor="end" stroke="#000" stroke-width="0.3">2016-2017</text>
<path d="M1356.375 532.0 H1640" stroke="#000" stroke-width="1.65"/>
<text transform="translate(1281.4,326.1) rotate(-90) scale(1.035,1)" font-size="19.6" text-anchor="middle" stroke="#000" stroke-width="0.3"><tspan dx="1.6">C</tspan><tspan dx="-0.9">D4</tspan><tspan font-size="13" dy="-7.5" dx="-0.7">+</tspan><tspan dy="7.5">/C</tspan><tspan dx="-1">D8</tspan><tspan font-size="13" dy="-7.5">+</tspan><tspan dy="7.5" dx="-2.2"> T</tspan><tspan dx="0.4"> cells</tspan><tspan dx="0.4"> (</tspan><tspan dx="1">%</tspan><tspan dx="0.5">)</tspan></text>
<text transform="translate(1491.30,650.70) scale(0.962,1)" font-size="20.9" text-anchor="middle" stroke="#000" stroke-width="0.3">Time</text>
</g>
</svg>
</body></html>
